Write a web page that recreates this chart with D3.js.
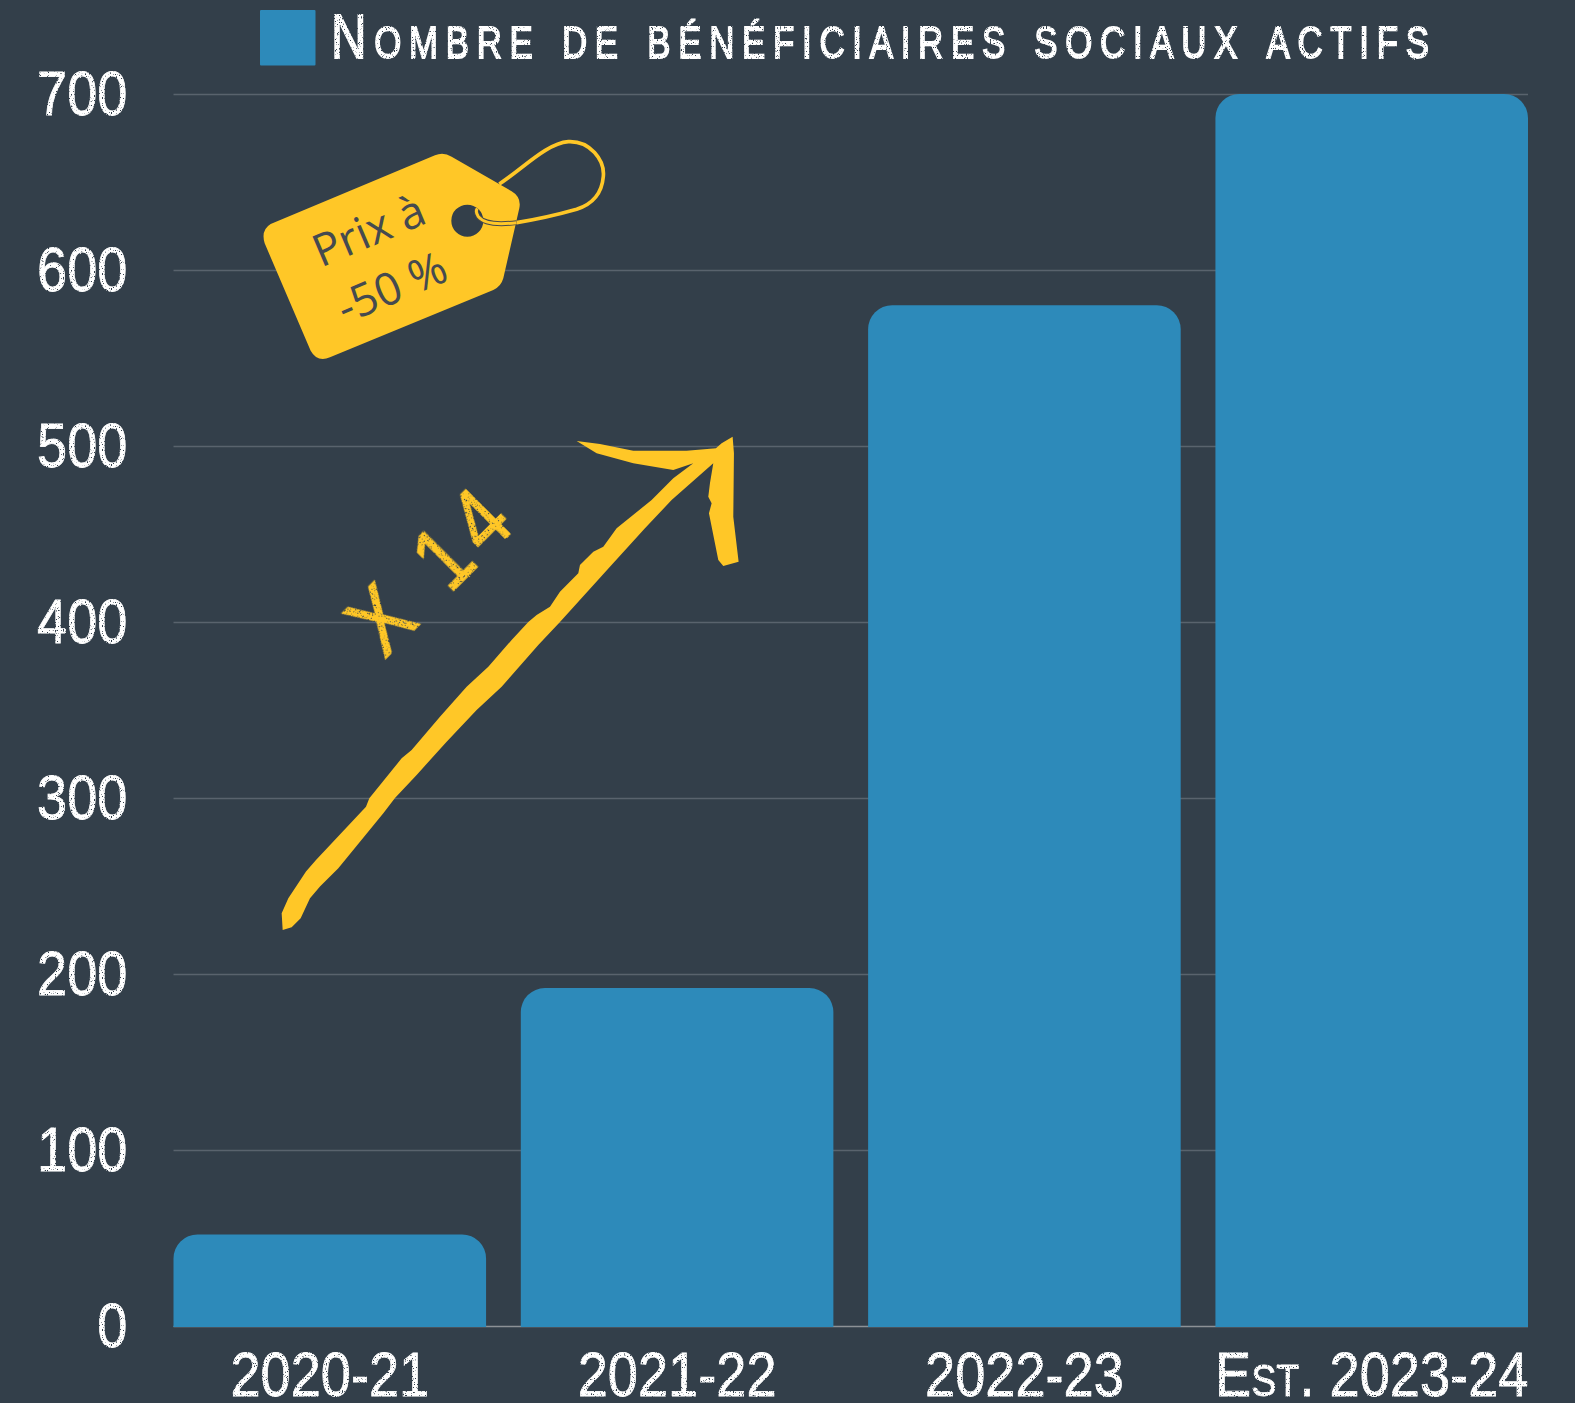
<!DOCTYPE html>
<html>
<head>
<meta charset="utf-8">
<script src="https://cdn.jsdelivr.net/npm/d3@7"></script>
<style>
  body { margin: 0; background: #333f4a; }
  svg { display: block; }
  .sketch { font-family: "Liberation Sans", sans-serif; fill: #fff; stroke: #fff; stroke-width: 0.8px; }
</style>
</head>
<body>
<svg id="viz"></svg>
<script>
// Chart data
var categories = ['2020-21', '2021-22', '2022-23', 'Est. 2023-24'];
var beneficiaires = [52, 192, 580, 700];
var yTicks = [0, 100, 200, 300, 400, 500, 600, 700];
var legendLabel = 'Nombre de bénéficiaires sociaux actifs';

var width = 1575;
var height = 1403;
var margin = { top: 94, right: 47, bottom: 77, left: 173.5 };
var drawWidth = width - margin.left - margin.right;
var drawHeight = height - margin.top - margin.bottom;
var radius = 24;
var narrow = 0.86;

var svg = d3.select('#viz')
            .attr('width', width)
            .attr('height', height);

// Scratchy chalk look for the labels
var filter = svg.append('defs').append('filter')
                .attr('id', 'chalk')
                .attr('x', '-5%').attr('y', '-10%')
                .attr('width', '110%').attr('height', '120%');
filter.append('feTurbulence')
      .attr('type', 'fractalNoise')
      .attr('baseFrequency', 0.75)
      .attr('numOctaves', 2)
      .attr('seed', 4)
      .attr('result', 'noise');
filter.append('feDisplacementMap')
      .attr('in', 'SourceGraphic')
      .attr('in2', 'noise')
      .attr('scale', 1.6)
      .attr('result', 'rough');
filter.append('feColorMatrix')
      .attr('in', 'noise')
      .attr('type', 'matrix')
      .attr('values', '0 0 0 0 0  0 0 0 0 0  0 0 0 0 0  0 0 0 -9 6.6')
      .attr('result', 'specks');
filter.append('feComposite')
      .attr('in', 'rough')
      .attr('in2', 'specks')
      .attr('operator', 'in');

var g = svg.append('g')
           .attr('transform', `translate(${margin.left}, ${margin.top})`);

var xScale = d3.scaleBand()
               .domain(categories)
               .range([0, drawWidth])
               .paddingInner(0.1)
               .paddingOuter(0);

var yScale = d3.scaleLinear()
               .domain([0, 700])
               .range([drawHeight, 0]);

// Y axis, ticks double as gridlines
var yAxis = d3.axisLeft(yScale)
              .tickValues(yTicks)
              .tickSize(-drawWidth)
              .tickPadding(46);

var yAxisG = g.append('g').call(yAxis);
yAxisG.select('.domain').remove();
yAxisG.selectAll('line')
      .attr('stroke', '#59636d')
      .attr('stroke-width', 1.5);
yAxisG.selectAll('line').filter(function(d) { return d === 0; })
      .attr('stroke', '#8c9196');
yAxisG.selectAll('text')
      .attr('class', 'sketch')
      .attr('x', 0)
      .attr('transform', `translate(-46, 0) scale(${narrow}, 1)`)
      .attr('filter', 'url(#chalk)')
      .style('font-size', '63px');

// Bars with rounded top corners
g.selectAll('path.bar')
 .data(beneficiaires)
 .enter()
 .append('path')
 .attr('class', 'bar')
 .attr('fill', '#2d8aba')
 .attr('d', function(d, i) {
     var x = xScale(categories[i]);
     var y = yScale(d);
     var w = xScale.bandwidth();
     return `M${x},${drawHeight + 1}V${y + radius}A${radius},${radius} 0 0 1 ${x + radius},${y}` +
            `H${x + w - radius}A${radius},${radius} 0 0 1 ${x + w},${y + radius}V${drawHeight + 1}Z`;
 });

// X axis
var xAxis = d3.axisBottom(xScale)
              .tickSize(0)
              .tickPadding(25);

var xAxisG = g.append('g')
              .attr('transform', `translate(0, ${drawHeight})`)
              .call(xAxis);
xAxisG.select('.domain').remove();
xAxisG.selectAll('text')
      .attr('class', 'sketch')
      .attr('transform', `scale(${narrow}, 1)`)
      .attr('filter', 'url(#chalk)')
      .style('font-size', '63px')
      .style('font-variant', 'small-caps');

// Legend
svg.append('rect')
   .attr('x', 260)
   .attr('y', 10)
   .attr('width', 55.5)
   .attr('height', 55.5)
   .attr('rx', 1)
   .attr('fill', '#2d8aba');

svg.append('text')
   .attr('class', 'sketch')
   .attr('transform', 'translate(331, 58) scale(0.78, 1)')
   .attr('textLength', 1098 / 0.78)
   .attr('lengthAdjust', 'spacing')
   .attr('filter', 'url(#chalk)')
   .style('font-size', '63px')
   .style('font-variant', 'small-caps')
   .style('stroke-width', '1.8px')
   .text(legendLabel);

// Arrow annotation
var arrow = [
    [68,1530],[95,1522],[122,1495],[150,1435],[180,1400],[235,1345],[370,1180],[405,1134],
    [470,1065],[560,965],[650,870],[725,800],[835,675],[900,606],[1050,440],[1155,325],
    [1235,240],[1360,130],[1350,190],[1345,230],[1355,250],[1347,280],[1375,420],[1390,438],
    [1436,425],[1420,290],[1422,100],[1418,50],[1385,70],[1368,85],[1280,92],[1120,92],
    [1020,72],[950,63],[1010,100],[1120,130],[1240,150],[1300,130],[1240,175],[1175,240],
    [1070,325],[1030,380],[1000,395],[960,435],[955,460],[900,515],[870,560],[830,585],
    [805,606],[755,660],[685,740],[620,800],[540,890],[455,990],[425,1015],[328,1135],
    [318,1160],[168,1320],[138,1355],[85,1435],[65,1480]
];
svg.append('path')
   .attr('transform', 'translate(260, 420) scale(0.3333)')
   .attr('fill', '#ffc727')
   .attr('d', d3.line().curve(d3.curveLinearClosed)(arrow));

svg.append('text')
   .attr('transform', `translate(454, 590) rotate(-45) scale(${narrow}, 1)`)
   .attr('text-anchor', 'middle')
   .attr('filter', 'url(#chalk)')
   .style('font-family', '"Liberation Sans", sans-serif')
   .style('font-size', '90px')
   .style('letter-spacing', '11px')
   .style('fill', '#ffc727')
   .style('stroke', '#ffc727')
   .style('stroke-width', '1.5px')
   .text('X 14');

// Price tag
var tag = svg.append('g')
             .attr('transform', 'translate(240, 0) scale(0.3333)');

tag.append('path')
   .attr('fill', '#ffc727')
   .attr('fill-rule', 'evenodd')
   .attr('d', 'M92,672 L585,466 Q610,455 635,470 L815,574 Q845,592 838,625 L790,835 Q783,860 760,870 ' +
              'L270,1072 Q232,1088 212,1052 L74,730 Q62,690 92,672 Z ' +
              'M634,662 a48,48 0 1,0 96,0 a48,48 0 1,0 -96,0 Z');

// String, the part over the tag gets a dark edge
tag.append('path')
   .attr('fill', 'none')
   .attr('stroke', '#ffc727')
   .attr('stroke-width', 11)
   .attr('d', 'M778,552 C850,505 920,430 985,425 C1050,422 1095,480 1090,530 C1085,590 1050,615 1010,628 ' +
              'C950,645 880,660 830,668');
tag.append('path')
   .attr('fill', 'none')
   .attr('stroke', '#47494a')
   .attr('stroke-width', 15)
   .attr('d', 'M830,668 C790,673 735,675 715,650 Q705,635 712,625');
tag.append('path')
   .attr('fill', 'none')
   .attr('stroke', '#ffc727')
   .attr('stroke-width', 9)
   .attr('d', 'M830,668 C790,673 735,675 715,650 Q705,635 712,625');

var tagText = [
    { label: 'Prix à', x: 375, y: 245 },
    { label: '-50 %', x: 398, y: 302 }
];
svg.selectAll('text.tag')
   .data(tagText)
   .enter()
   .append('text')
   .attr('class', 'tag')
   .attr('transform', function(d) { return `translate(${d.x}, ${d.y}) rotate(-23)`; })
   .attr('text-anchor', 'middle')
   .style('font-family', '"Open Sans", sans-serif')
   .style('font-size', '45px')
   .style('fill', '#454a50')
   .text(function(d) { return d.label; });
</script>
</body>
</html>
